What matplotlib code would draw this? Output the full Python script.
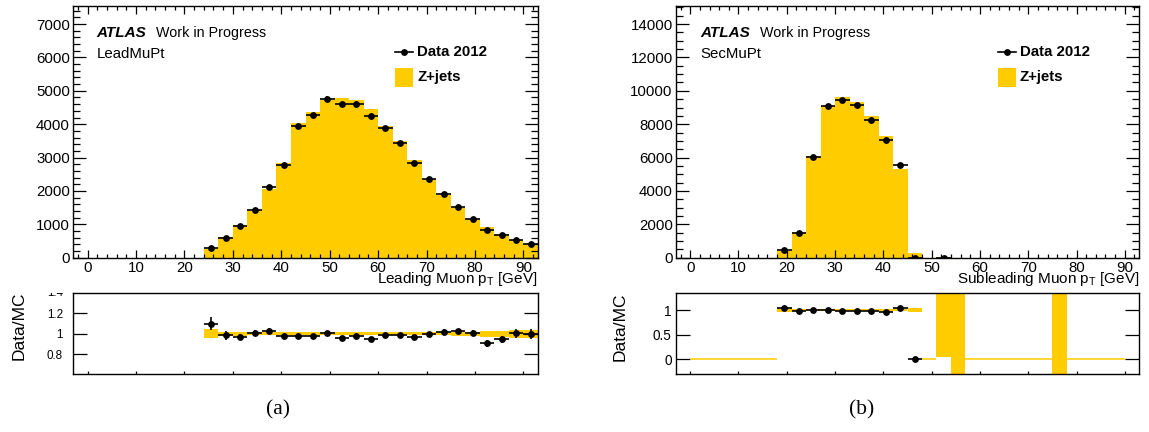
import numpy as np
import matplotlib
matplotlib.use('Agg')
from matplotlib import pyplot as plt
from matplotlib.ticker import MultipleLocator, FixedLocator
from matplotlib.transforms import Bbox, TransformedBbox
from matplotlib.lines import Line2D
from matplotlib.patches import Rectangle

plt.rcParams['font.family'] = ['Liberation Sans', 'DejaVu Sans']
plt.rcParams['mathtext.fontset'] = 'custom'
plt.rcParams['mathtext.rm'] = 'Liberation Sans'
plt.rcParams['mathtext.it'] = 'Liberation Sans:italic'
plt.rcParams['mathtext.bf'] = 'Liberation Sans:bold'

nan = np.nan

# 3 GeV bins, low edges 0 ... 90
bin_lo = np.arange(0, 93, 3)
bin_w = 3.0

# leading muon pT
lead_mc = [0] * 8 + [255, 610, 990, 1420, 2060, 2840, 4030, 4360, 4720, 4790, 4720, 4460,
                     3960, 3500, 2920, 2370, 1880, 1480, 1150, 930, 710, 530, 410]
lead_data = [nan] * 8 + [280, 600, 961, 1434, 2122, 2775, 3950, 4273, 4767, 4603, 4611, 4241,
                         3897, 3444, 2824, 2363, 1915, 1514, 1153, 843, 671, 532, 409]
lead_mc_relerr = [0] * 8 + [0.045, 0.02, 0.018, 0.015, 0.015, 0.013, 0.013, 0.013, 0.013, 0.013, 0.013, 0.013,
                            0.013, 0.013, 0.015, 0.015, 0.015, 0.018, 0.02, 0.03, 0.03, 0.04, 0.04]

# subleading muon pT
sub_mc = [0] * 6 + [430, 1540, 6080, 9100, 9620, 9330, 8470, 7320, 5330, 260, 0, 12, 8] + [0] * 6 + [8] + [0] * 5
sub_data = [nan] * 6 + [445, 1498, 6035, 9060, 9440, 9150, 8240, 7030, 5545, 0, nan, 0, nan] + [nan] * 12
sub_mc_relerr = [0] * 6 + [0.035, 0.02, 0.015, 0.012, 0.012, 0.012, 0.012, 0.015, 0.015, 0.04, 0, 0.95, 1.6] \
                + [0] * 6 + [1.6] + [0] * 5

yellow = '#ffcc00'
W, H = 1149, 432
PT = 0.72  # points per pixel at dpi 100
fig = plt.figure(figsize=(W / 100, H / 100), dpi=100)


def px_axes(x0, y0, x1, y1):
    return fig.add_axes([x0 / W, 1 - y1 / H, (x1 - x0) / W, (y1 - y0) / H])


def fx(x):
    return x / W


def fy(y):
    return 1 - y / H


def draw_main(ax, mc, data, ymax, ymajor, yminor):
    mc = np.array(mc, float)
    data = np.array(data, float)
    edges = np.append(bin_lo, bin_lo[-1] + bin_w)
    ax.stairs(mc, edges, fill=True, color=yellow, lw=0)
    cen = bin_lo + bin_w / 2
    ok = ~np.isnan(data)
    ax.errorbar(cen[ok], data[ok], xerr=bin_w / 2, yerr=np.sqrt(data[ok]), fmt='o', color='black',
                ms=3.9, elinewidth=1.2, capsize=0)
    ax.set_xlim(-3, 93)
    ax.set_ylim(0, ymax)
    ax.xaxis.set_major_locator(MultipleLocator(10))
    ax.xaxis.set_minor_locator(MultipleLocator(2))
    ax.yaxis.set_major_locator(MultipleLocator(ymajor))
    ax.yaxis.set_minor_locator(MultipleLocator(yminor))
    ax.tick_params(axis='x', which='major', direction='in', top=True, length=7.7 * PT, width=0.9,
                   labelsize=10.8, pad=3 * PT)
    ax.tick_params(axis='x', which='minor', direction='in', top=True, length=3.6 * PT, width=0.9)
    ax.tick_params(axis='y', which='major', direction='in', right=True, length=13 * PT, width=0.9,
                   labelsize=10.8, pad=3 * PT)
    ax.tick_params(axis='y', which='minor', direction='in', right=True, length=6.7 * PT, width=0.9)
    for s in ax.spines.values():
        s.set_linewidth(1.0)


def draw_ratio(ax, mc, data, relerr, ylim, yticks, zero_xmax, lpad, lsize):
    mc = np.array(mc, float)
    data = np.array(data, float)
    relerr = np.array(relerr, float)
    has_mc = mc > 0
    ax.bar(bin_lo[has_mc], 2 * relerr[has_mc], bottom=1 - relerr[has_mc], width=bin_w, align='edge',
           color=yellow, lw=0)
    zero = (~has_mc) & (bin_lo < zero_xmax)
    ax.hlines(np.zeros(zero.sum()), bin_lo[zero], bin_lo[zero] + bin_w, color=yellow, lw=1.1)
    cen = bin_lo + bin_w / 2
    ok = (~np.isnan(data)) & (mc > 100)
    ratio = data[ok] / mc[ok]
    rerr = np.sqrt(data[ok]) / mc[ok]
    ax.errorbar(cen[ok], ratio, xerr=bin_w / 2, yerr=rerr, fmt='o', color='black',
                ms=3.9, elinewidth=1.2, capsize=0)
    ax.set_xlim(-3, 93)
    ax.set_ylim(*ylim)
    ax.xaxis.set_major_locator(MultipleLocator(10))
    ax.yaxis.set_major_locator(FixedLocator(yticks))
    ax.tick_params(axis='x', which='major', direction='in', length=3 * PT, width=0.9, labelbottom=False)
    ax.tick_params(axis='y', which='major', direction='in', right=True, length=14 * PT, width=0.9,
                   labelsize=lsize, pad=lpad * PT)
    ax.set_yticklabels([('%g' % v) for v in yticks])
    for s in ax.spines.values():
        s.set_linewidth(1.0)


def draw_text(x0, name, leg_x):
    fig.text(fx(x0), fy(37.3), 'ATLAS', fontsize=11, fontweight='bold', style='italic', va='baseline')
    fig.text(fx(x0 + 59.5), fy(37.3), 'Work in Progress', fontsize=10.3, va='baseline')
    fig.text(fx(x0), fy(58.3), name, fontsize=10.8, va='baseline')
    fig.add_artist(Line2D([fx(leg_x), fx(leg_x + 18)], [fy(51.7), fy(51.7)], color='black', lw=1.2))
    fig.add_artist(Line2D([fx(leg_x + 9)], [fy(51.7)], color='black', marker='o', ms=3.9))
    fig.text(fx(leg_x + 22), fy(51.7), 'Data 2012', fontsize=10.8, fontweight='bold', va='center')
    fig.add_artist(Rectangle((fx(leg_x), fy(86.7)), fx(18.3), 18.4 / H, color=yellow, lw=0))
    fig.text(fx(leg_x + 22), fy(77), 'Z+jets', fontsize=10.8, fontweight='bold', va='center')


# (a) leading muon
ax1 = px_axes(73, 5.7, 538, 257.7)
draw_main(ax1, lead_mc, lead_data, 7550, 1000, 200)
fig.text(fx(538), fy(283.5), r'Leading Muon $\mathregular{p_{T}}$ [GeV]', fontsize=11, ha='right',
         va='baseline')
draw_text(96.7, 'LeadMuPt', 395)

r1 = px_axes(73, 292.7, 538, 373.5)
draw_ratio(r1, lead_mc, lead_data, lead_mc_relerr, (0.612, 1.4), [0.8, 1.0, 1.2], 93, 10, 8.4)
r1.set_ylabel('Data/MC', fontsize=12.5, labelpad=0)
r1.yaxis.set_label_coords(-0.1, 0.59)
# the 1.4 label sits on the top edge of the pad and is cut in half
t = fig.text(fx(63), fy(292.7), '1.4', fontsize=8.4, ha='right', va='center')
t.set_clip_box(TransformedBbox(Bbox([[0, 0], [1, fy(292.7)]]), fig.transFigure))
t.set_clip_on(True)

# (b) subleading muon
ax2 = px_axes(675.7, 5.7, 1139.3, 257.7)
draw_main(ax2, sub_mc, sub_data, 15100, 2000, 500)
fig.text(fx(1139.3), fy(283.5), r'Subleading Muon $\mathregular{p_{T}}$ [GeV]', fontsize=11, ha='right',
         va='baseline')
draw_text(700, 'SecMuPt', 998)

r2 = px_axes(675.7, 293.3, 1139.3, 374)
draw_ratio(r2, sub_mc, sub_data, sub_mc_relerr, (-0.3, 1.34), [0, 0.5, 1], 90, 4, 9.8)
r2.set_ylabel('Data/MC', fontsize=12.5, labelpad=0)
r2.yaxis.set_label_coords(-0.103, 0.586)

fig.text(fx(278), fy(410), '(a)', fontsize=15.5, family='Liberation Serif', ha='center', va='center')
fig.text(fx(862), fy(410), '(b)', fontsize=15.5, family='Liberation Serif', ha='center', va='center')

fig.savefig('out.png', dpi=100)
